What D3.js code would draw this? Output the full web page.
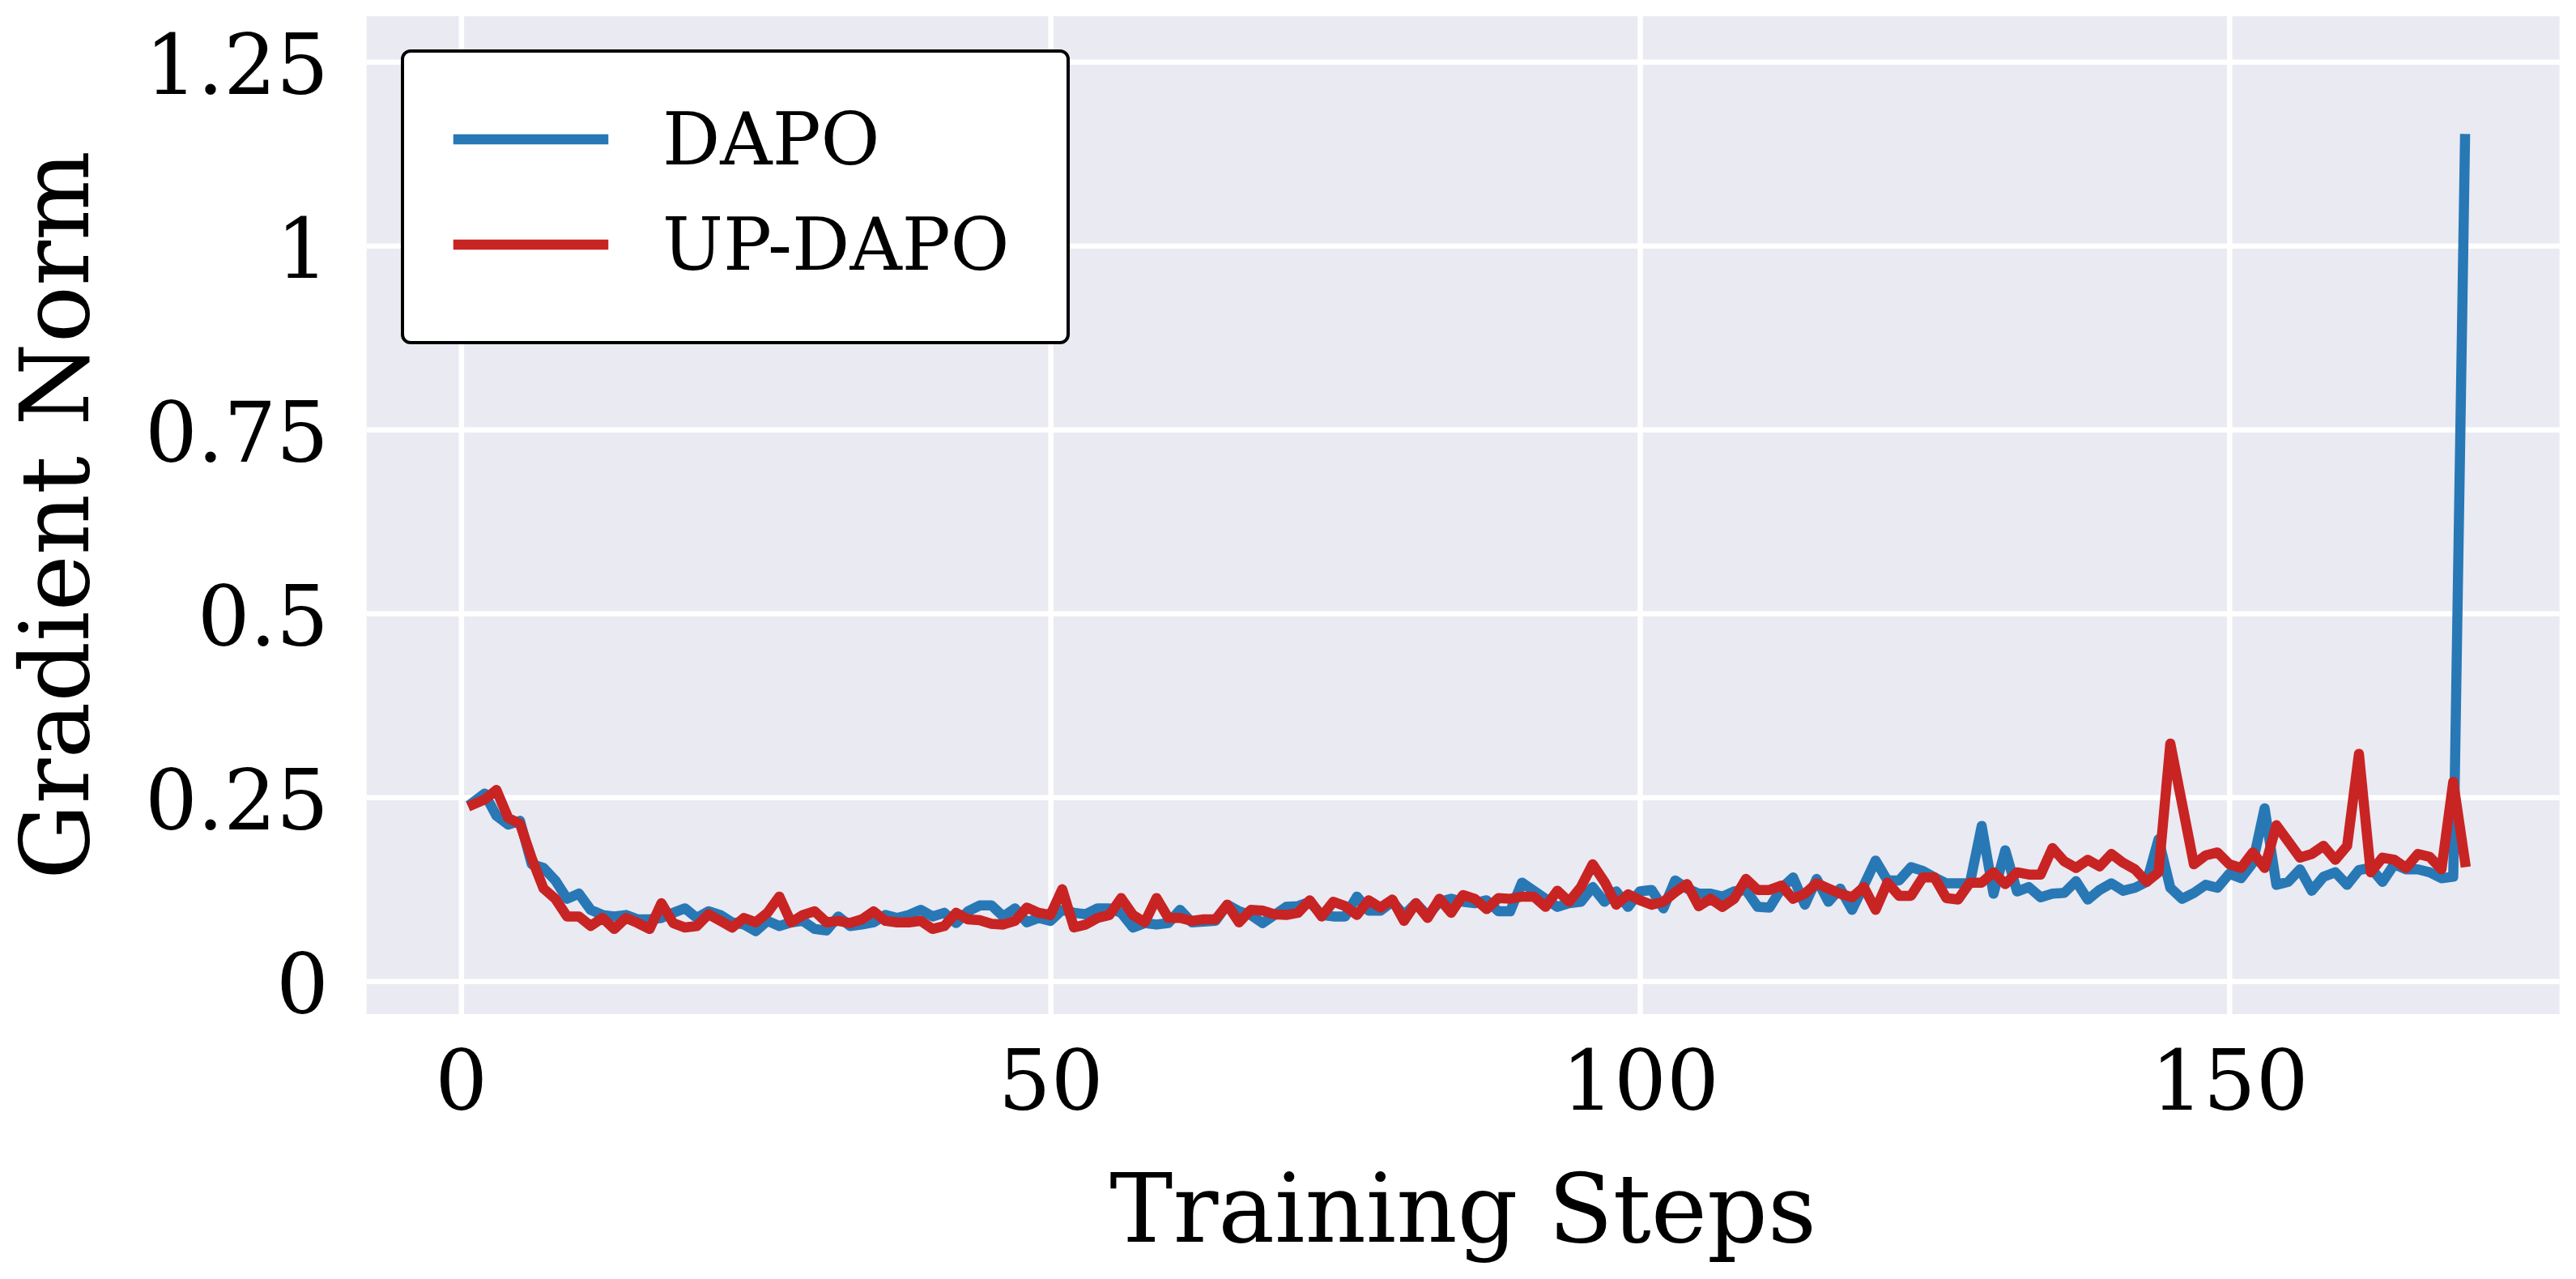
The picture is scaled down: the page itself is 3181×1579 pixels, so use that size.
<!DOCTYPE html>
<html>
<head>
<meta charset="utf-8">
<script src="https://cdn.jsdelivr.net/npm/d3@7"></script>
<style>
  body { margin: 0; background: #fff; }
  text { font-family: "DejaVu Serif", serif; fill: #000; }
</style>
</head>
<body>
<div id="chart"></div>
<script>
// training steps 1..170
var steps = d3.range(1, 171);

var dapo = [
  0.243, 0.255, 0.225, 0.213, 0.218, 0.159, 0.154, 0.137, 0.112, 0.119,
  0.097, 0.090, 0.088, 0.090, 0.084, 0.084, 0.086, 0.093, 0.099, 0.086,
  0.095, 0.090, 0.080, 0.077, 0.068, 0.082, 0.075, 0.080, 0.082, 0.071,
  0.069, 0.088, 0.075, 0.077, 0.080, 0.090, 0.086, 0.090, 0.097, 0.088,
  0.093, 0.079, 0.095, 0.103, 0.103, 0.088, 0.099, 0.080, 0.086, 0.082,
  0.097, 0.093, 0.091, 0.099, 0.099, 0.093, 0.073, 0.079, 0.077, 0.079,
  0.097, 0.080, 0.081, 0.082, 0.104, 0.095, 0.090, 0.079, 0.090, 0.101,
  0.102, 0.108, 0.090, 0.088, 0.088, 0.115, 0.096, 0.096, 0.108, 0.090,
  0.106, 0.089, 0.108, 0.112, 0.108, 0.106, 0.110, 0.095, 0.095, 0.134,
  0.123, 0.112, 0.101, 0.106, 0.108, 0.128, 0.108, 0.122, 0.101, 0.122,
  0.124, 0.099, 0.137, 0.126, 0.119, 0.119, 0.115, 0.122, 0.124, 0.101,
  0.100, 0.126, 0.141, 0.104, 0.139, 0.108, 0.126, 0.097, 0.130, 0.164,
  0.137, 0.137, 0.155, 0.150, 0.141, 0.133, 0.133, 0.133, 0.211, 0.119,
  0.178, 0.122, 0.128, 0.114, 0.119, 0.120, 0.136, 0.111, 0.124, 0.133,
  0.123, 0.127, 0.135, 0.193, 0.127, 0.112, 0.120, 0.131, 0.127, 0.146,
  0.140, 0.161, 0.235, 0.131, 0.135, 0.152, 0.123, 0.142, 0.148, 0.131,
  0.151, 0.154, 0.135, 0.159, 0.152, 0.152, 0.148, 0.140, 0.142, 1.145
];

var upDapo = [
  0.240, 0.247, 0.260, 0.222, 0.214, 0.167, 0.126, 0.112, 0.088, 0.088,
  0.075, 0.086, 0.071, 0.086, 0.079, 0.071, 0.106, 0.079, 0.073, 0.075,
  0.091, 0.082, 0.073, 0.086, 0.080, 0.093, 0.115, 0.080, 0.090, 0.095,
  0.080, 0.082, 0.079, 0.084, 0.095, 0.082, 0.080, 0.080, 0.082, 0.071,
  0.075, 0.093, 0.084, 0.083, 0.078, 0.077, 0.082, 0.100, 0.093, 0.090,
  0.125, 0.073, 0.077, 0.086, 0.090, 0.113, 0.090, 0.080, 0.113, 0.086,
  0.086, 0.082, 0.084, 0.084, 0.104, 0.080, 0.097, 0.096, 0.091, 0.090,
  0.093, 0.110, 0.088, 0.108, 0.102, 0.090, 0.110, 0.100, 0.111, 0.082,
  0.106, 0.086, 0.112, 0.093, 0.117, 0.112, 0.098, 0.113, 0.112, 0.115,
  0.115, 0.101, 0.123, 0.108, 0.128, 0.159, 0.135, 0.104, 0.118, 0.110,
  0.104, 0.108, 0.121, 0.132, 0.102, 0.112, 0.101, 0.112, 0.139, 0.124,
  0.124, 0.130, 0.112, 0.119, 0.133, 0.126, 0.119, 0.114, 0.128, 0.097,
  0.134, 0.116, 0.116, 0.141, 0.141, 0.113, 0.111, 0.134, 0.134, 0.148,
  0.132, 0.148, 0.145, 0.145, 0.181, 0.163, 0.154, 0.165, 0.156, 0.173,
  0.161, 0.152, 0.135, 0.148, 0.323, 0.241, 0.159, 0.171, 0.175, 0.159,
  0.154, 0.175, 0.154, 0.212, 0.190, 0.168, 0.173, 0.184, 0.165, 0.184,
  0.309, 0.148, 0.168, 0.165, 0.154, 0.173, 0.169, 0.152, 0.271, 0.162
];

var seriesNames = ['DAPO', 'UP-DAPO'];
var seriesColors = ['#2878b5', '#c82423'];
var xTicks = [0, 50, 100, 150];
var yTicks = [0, 0.25, 0.5, 0.75, 1, 1.25];

var width = 3181, height = 1579;
var plot = {left: 452.7, right: 3160.7, top: 20, bottom: 1252};

var x = d3.scaleLinear().domain([-8.01, 178.02]).range([plot.left, plot.right]);
var y = d3.scaleLinear().domain([-0.0448, 1.312]).range([plot.bottom, plot.top]);

var svg = d3.select('#chart').append('svg')
  .attr('width', width)
  .attr('height', height)
  .style('display', 'block');

svg.append('rect')
  .attr('width', width).attr('height', height).attr('fill', '#fff');

// plot background
svg.append('rect')
  .attr('x', plot.left).attr('y', plot.top)
  .attr('width', plot.right - plot.left)
  .attr('height', plot.bottom - plot.top)
  .attr('fill', '#eaeaf2');

// grid
var xGrid = svg.append('g')
  .attr('transform', 'translate(0,' + plot.bottom + ')')
  .call(d3.axisBottom(x).tickValues(xTicks)
    .tickSize(-(plot.bottom - plot.top)).tickFormat(''));
var yGrid = svg.append('g')
  .attr('transform', 'translate(' + plot.left + ',0)')
  .call(d3.axisLeft(y).tickValues(yTicks)
    .tickSize(-(plot.right - plot.left)).tickFormat(''));
[xGrid, yGrid].forEach(function(g){
  g.select('.domain').remove();
  g.selectAll('line').attr('stroke', '#fff').attr('stroke-width', 6.5);
});

// tick labels
var xAxis = svg.append('g')
  .attr('transform', 'translate(0,' + plot.bottom + ')')
  .call(d3.axisBottom(x).tickValues(xTicks).tickSize(0).tickFormat(d3.format('~g')));
xAxis.select('.domain').remove();
xAxis.selectAll('text')
  .attr('y', 118).attr('dy', null)
  .attr('font-size', 102)
  .attr('font-family', '"DejaVu Serif", serif')
  .attr('fill', '#000');

var yAxis = svg.append('g')
  .attr('transform', 'translate(' + plot.left + ',0)')
  .call(d3.axisLeft(y).tickValues(yTicks).tickSize(0).tickFormat(d3.format('~g')));
yAxis.select('.domain').remove();
yAxis.selectAll('text')
  .attr('x', -46.7).attr('dy', 39.5)
  .attr('text-anchor', 'end')
  .attr('font-size', 102)
  .attr('font-family', '"DejaVu Serif", serif')
  .attr('fill', '#000');

// axis labels
svg.append('text')
  .attr('x', (plot.left + plot.right) / 2)
  .attr('y', 1533)
  .attr('text-anchor', 'middle')
  .attr('font-size', 117)
  .text('Training Steps');

svg.append('text')
  .attr('transform', 'translate(109,' + ((plot.top + plot.bottom) / 2) + ') rotate(-90)')
  .attr('text-anchor', 'middle')
  .attr('font-size', 117)
  .text('Gradient Norm');

// lines
var line = d3.line()
  .x(function(d){ return x(d[0]); })
  .y(function(d){ return y(d[1]); });

[dapo, upDapo].forEach(function(vals, i){
  svg.append('path')
    .datum(steps.map(function(s, j){ return [s, vals[j]]; }))
    .attr('d', line)
    .attr('fill', 'none')
    .attr('stroke', seriesColors[i])
    .attr('stroke-width', 12.5)
    .attr('stroke-linejoin', 'round')
    .attr('stroke-linecap', 'square');
});

// legend
var legend = svg.append('g');
legend.append('rect')
  .attr('x', 497).attr('y', 63)
  .attr('width', 822).attr('height', 360)
  .attr('rx', 10).attr('ry', 10)
  .attr('fill', '#fff')
  .attr('stroke', '#000')
  .attr('stroke-width', 4);

seriesNames.forEach(function(name, i){
  var ly = 172 + i * 130;
  legend.append('line')
    .attr('x1', 566).attr('x2', 745)
    .attr('y1', ly).attr('y2', ly)
    .attr('stroke', seriesColors[i])
    .attr('stroke-width', 12.5)
    .attr('stroke-linecap', 'square');
  legend.append('text')
    .attr('x', 818).attr('y', ly + 31)
    .attr('font-size', 89)
    .text(name);
});
</script>
</body>
</html>
